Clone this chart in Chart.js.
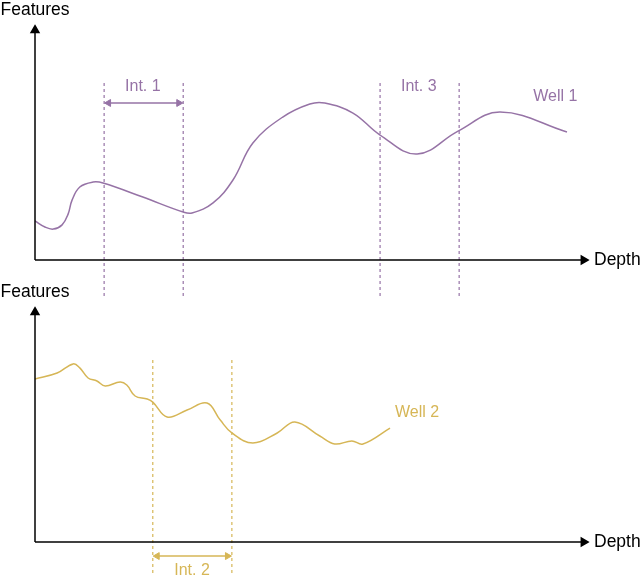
<!DOCTYPE html>
<html>
<head>
<meta charset="utf-8">
<script src="https://cdn.jsdelivr.net/npm/chart.js@4/dist/chart.umd.min.js"></script>
<style>
  body { margin: 0; background: #fff; }
  #wrap { position: relative; width: 640px; height: 576px; }
  #wrap canvas { position: absolute; left: 0; top: 0; }
</style>
</head>
<body>
<div id="wrap">
  <canvas id="well1Chart" width="640" height="576"></canvas>
  <canvas id="well2Chart" width="640" height="576"></canvas>
</div>
<script>
// Well 1 (top panel) - depth vs feature value
const depth1 = [0, 1.8, 3.3, 4.9, 6.0, 6.7, 8.1, 10.5, 12.3, 19.5, 26.8, 28.4, 32.2, 35.8, 39.4, 44.8, 49.7, 52.4, 57.5, 62.4, 69.1, 76.5, 84.1, 96.2];
const well1  = [16.7, 14.1, 13.2, 15.0, 19.7, 25.6, 31.2, 33.3, 32.9, 26.9, 20.5, 20.1, 24.4, 34.2, 50.0, 61.1, 66.7, 67.1, 62.8, 53.4, 45.3, 55.1, 63.2, 54.7];

// Well 2 (bottom panel)
const depth2 = [0, 4.0, 6.9, 8.1, 9.6, 11.2, 12.7, 15.4, 16.6, 18.1, 20.3, 21.3, 23.9, 27.5, 31.1, 33.5, 35.6, 39.4, 43.8, 47.0, 51.5, 54.2, 57.3, 59.3, 64.2];
const well2  = [69.7, 72.2, 76.1, 74.4, 70.1, 68.8, 66.7, 68.4, 67.1, 62.4, 61.1, 59.8, 53.4, 56.4, 59.4, 52.1, 46.6, 42.3, 46.6, 51.3, 45.3, 41.9, 43.2, 41.9, 48.7];

// interval boundaries (depth)
const int1 = [12.5, 26.8];
const int3 = [62.4, 76.7];
const int2 = [21.3, 35.6];

const PURPLE = '#9673a6';
const YELLOW = '#d6b656';

function pts(xs, ys) {
    return xs.map((x, i) => ({ x: x, y: ys[i] }));
}

function vline(x, y0, y1, color) {
    return {
        data: [{ x: x, y: y0 }, { x: x, y: y1 }],
        borderColor: color,
        borderWidth: 1.2,
        borderDash: [3, 3],
        pointRadius: 0,
        clip: false
    };
}

function arrowLine(x0, x1, y, color) {
    return {
        data: [{ x: x0, y: y }, { x: x1, y: y }],
        borderColor: color,
        backgroundColor: color,
        borderWidth: 1.5,
        pointStyle: 'triangle',
        pointRadius: 4,
        pointRotation: [-90, 90],
        pointBorderWidth: 1,
        clip: false
    };
}

function axisLines() {
    return [
        {
            data: [{ x: 0, y: 0 }, { x: 0, y: 98.2 }],
            borderColor: '#000', backgroundColor: '#000', borderWidth: 1.5,
            pointStyle: 'triangle', pointRadius: [0, 4.5], pointRotation: 0, clip: false
        },
        {
            data: [{ x: 0, y: 0 }, { x: 99.2, y: 0 }],
            borderColor: '#000', backgroundColor: '#000', borderWidth: 1.5,
            pointStyle: 'triangle', pointRadius: [0, 4.5], pointRotation: 90, clip: false
        }
    ];
}

// text labels placed in data coordinates
const textPlugin = {
    id: 'textLabels',
    afterDatasetsDraw(chart, args, opts) {
        const ctx = chart.ctx;
        const xs = chart.scales.x, ys = chart.scales.y;
        ctx.save();
        ctx.textBaseline = 'middle';
        // axis titles
        ctx.fillStyle = '#000';
        ctx.font = '17.5px "Liberation Sans", Arial, sans-serif';
        ctx.textAlign = 'center';
        ctx.fillText('Features', xs.getPixelForValue(0), ys.getPixelForValue(100) - 16);
        ctx.textAlign = 'left';
        ctx.fillText('Depth', xs.getPixelForValue(100) + 6, ys.getPixelForValue(0));
        // coloured labels
        ctx.font = '16px "Liberation Sans", Arial, sans-serif';
        opts.items.forEach(t => {
            ctx.fillStyle = t.color;
            ctx.textAlign = t.align;
            ctx.fillText(t.text, xs.getPixelForValue(t.x), ys.getPixelForValue(t.y));
        });
        ctx.restore();
    }
};

function scales(yMin) {
    return {
        x: { type: 'linear', min: 0, max: 100, display: false },
        y: { type: 'linear', min: yMin, max: 100, display: false }
    };
}

new Chart(document.getElementById('well1Chart').getContext('2d'), {
    type: 'line',
    data: {
        datasets: [
            ...axisLines(),
            {
                data: pts(depth1, well1),
                borderColor: PURPLE,
                borderWidth: 1.5,
                pointRadius: 0,
                tension: 0.4
            },
            vline(int1[0], 75.6, -16.2, PURPLE),
            vline(int1[1], 75.6, -16.2, PURPLE),
            vline(int3[0], 75.6, -16.2, PURPLE),
            vline(int3[1], 75.6, -16.2, PURPLE),
            arrowLine(int1[0] + 0.8, int1[1] - 0.8, 67.1, PURPLE)
        ]
    },
    options: {
        responsive: false,
        animation: false,
        devicePixelRatio: 1,
        layout: { autoPadding: false, padding: { left: 35, top: 26, right: 52, bottom: 316 } },
        scales: scales(0),
        plugins: {
            legend: { display: false },
            tooltip: { enabled: false },
            textLabels: {
                items: [
                    { text: 'Int. 1', x: 19.5, y: 73.9, color: PURPLE, align: 'center' },
                    { text: 'Int. 3', x: 69.4, y: 73.9, color: PURPLE, align: 'center' },
                    { text: 'Well 1', x: 90.1, y: 69.7, color: PURPLE, align: 'left' }
                ]
            }
        }
    },
    plugins: [textPlugin]
});

// bottom panel: y runs below zero so the Int. 2 arrow sits inside the plot area
new Chart(document.getElementById('well2Chart').getContext('2d'), {
    type: 'line',
    data: {
        datasets: [
            ...axisLines(),
            {
                data: pts(depth2, well2),
                borderColor: YELLOW,
                borderWidth: 1.5,
                pointRadius: 0,
                tension: 0.4
            },
            vline(int2[0], 77.8, -14.5, YELLOW),
            vline(int2[1], 77.8, -14.5, YELLOW),
            arrowLine(int2[0] + 0.8, int2[1] - 0.8, -6.0, YELLOW)
        ]
    },
    options: {
        responsive: false,
        animation: false,
        devicePixelRatio: 1,
        layout: { autoPadding: false, padding: { left: 35, top: 308, right: 52, bottom: 1.2 } },
        scales: scales(-14),
        plugins: {
            legend: { display: false },
            tooltip: { enabled: false },
            textLabels: {
                items: [
                    { text: 'Well 2', x: 65.1, y: 55.1, color: YELLOW, align: 'left' },
                    { text: 'Int. 2', x: 28.4, y: -12.0, color: YELLOW, align: 'center' }
                ]
            }
        }
    },
    plugins: [textPlugin]
});
</script>
</body>
</html>
